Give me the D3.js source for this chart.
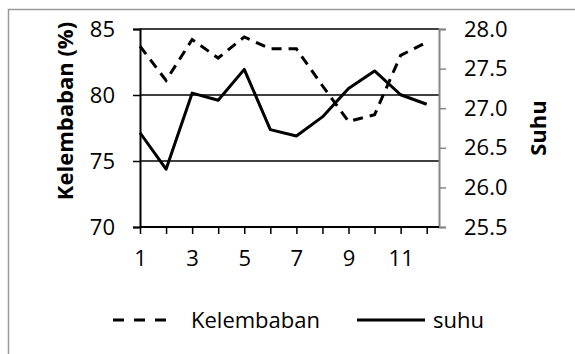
<!DOCTYPE html>
<html>
<head>
<meta charset="utf-8">
<script src="https://cdn.jsdelivr.net/npm/d3@7"></script>
<style>
  body { margin: 0; background: #fff; }
  svg text { font-family: "Open Sans", sans-serif; fill: #000; }
</style>
</head>
<body>
<div id="grafik"></div>
<script>
// data
var bulan = [1, 2, 3, 4, 5, 6, 7, 8, 9, 10, 11, 12]
var kelembaban = [83.7, 81.1, 84.2, 82.8, 84.4, 83.5, 83.5, 80.7, 78.0, 78.5, 83.0, 84.0]
var suhu = [26.69, 26.23, 27.19, 27.10, 27.49, 26.73, 26.65, 26.89, 27.25, 27.47, 27.17, 27.05]
var tickKiri = [70, 75, 80, 85]
var tickKanan = [25.5, 26.0, 26.5, 27.0, 27.5, 28.0]
var labelX = [1, 3, 5, 7, 9, 11]

var W = 575, H = 354
var plot = {left: 140, right: 439, top: 29, bottom: 227}

var svg = d3.select("#grafik").append("svg")
  .attr("width", W).attr("height", H)

// bingkai luar
svg.append("rect")
  .attr("x", 8.5).attr("y", 9.5)
  .attr("width", W).attr("height", H)
  .attr("fill", "none").attr("stroke", "#9a9a9a").attr("stroke-width", 1.5)

var x = d3.scaleLinear().domain([1, 12]).range([plot.left, 426.7])
var yKiri = d3.scaleLinear().domain([70, 85]).range([plot.bottom, plot.top])
var yKanan = d3.scaleLinear().domain([25.5, 28]).range([plot.bottom, plot.top])

// garis grid
svg.selectAll("line.grid")
  .data(tickKiri.slice(1))
  .enter().append("line")
  .attr("class", "grid")
  .attr("x1", plot.left).attr("x2", plot.right)
  .attr("y1", d => yKiri(d)).attr("y2", d => yKiri(d))
  .attr("stroke", "#000").attr("stroke-width", 1.5)

// sumbu kiri
var sumbuKiri = svg.append("g")
  .attr("transform", "translate(" + plot.left + ",0)")
  .call(d3.axisLeft(yKiri).tickValues(tickKiri).tickSize(7).tickPadding(18))
sumbuKiri.select(".domain").attr("stroke", "#000").attr("stroke-width", 2)
sumbuKiri.selectAll(".tick line").attr("stroke", "#000").attr("stroke-width", 1.5)
sumbuKiri.selectAll(".tick text")
  .style("font-size", "22px").style("font-family", "Open Sans")

// sumbu kanan
var sumbuKanan = svg.append("g")
  .attr("transform", "translate(" + plot.right + ",0)")
  .call(d3.axisRight(yKanan).tickValues(tickKanan).tickFormat(d3.format(".1f")).tickSize(7).tickPadding(18))
sumbuKanan.select(".domain").attr("stroke", "#868686").attr("stroke-width", 2)
sumbuKanan.selectAll(".tick line").attr("stroke", "#868686").attr("stroke-width", 1.5)
sumbuKanan.selectAll(".tick text")
  .style("font-size", "22px").style("font-family", "Open Sans")

// sumbu x
var sumbuX = svg.append("g")
  .attr("transform", "translate(0," + plot.bottom + ")")
  .call(d3.axisBottom(x).tickValues(bulan).tickSize(7).tickPadding(16)
    .tickFormat(d => labelX.indexOf(d) >= 0 ? d : ""))
sumbuX.select(".domain").remove()
sumbuX.append("line")
  .attr("x1", plot.left).attr("x2", plot.right)
  .attr("stroke", "#000").attr("stroke-width", 2)
sumbuX.selectAll(".tick line").attr("stroke", "#000").attr("stroke-width", 1.5)
sumbuX.selectAll(".tick text")
  .style("font-size", "22px").style("font-family", "Open Sans")

// judul sumbu
svg.append("text")
  .attr("transform", "translate(73," + ((plot.top + plot.bottom) / 2 - 17) + ") rotate(-90)")
  .attr("text-anchor", "middle")
  .style("font-size", "22px").style("font-weight", "bold")
  .text("Kelembaban (%)")
svg.append("text")
  .attr("transform", "translate(546," + (plot.top + plot.bottom) / 2 + ") rotate(-90)")
  .attr("text-anchor", "middle")
  .style("font-size", "22px").style("font-weight", "bold")
  .text("Suhu")

// garis data
var garisKel = d3.line().x((d, i) => x(bulan[i])).y(d => yKiri(d))
var garisSuhu = d3.line().x((d, i) => x(bulan[i])).y(d => yKanan(d))

svg.append("path")
  .datum(kelembaban)
  .attr("d", garisKel)
  .attr("fill", "none").attr("stroke", "#000").attr("stroke-width", 3)
  .attr("stroke-dasharray", "10,7")
svg.append("path")
  .datum(suhu)
  .attr("d", garisSuhu)
  .attr("fill", "none").attr("stroke", "#000").attr("stroke-width", 3)
  .attr("stroke-linejoin", "round")

// legenda
var leg = svg.append("g")
svg.append("line")
  .attr("x1", 113).attr("x2", 171).attr("y1", 320).attr("y2", 320)
  .attr("stroke", "#000").attr("stroke-width", 3).attr("stroke-dasharray", "11,10")
svg.append("text").attr("x", 191).attr("y", 328)
  .style("font-size", "22px").text("Kelembaban")
svg.append("line")
  .attr("x1", 357).attr("x2", 425).attr("y1", 320).attr("y2", 320)
  .attr("stroke", "#000").attr("stroke-width", 3)
svg.append("text").attr("x", 433).attr("y", 328)
  .style("font-size", "22px").text("suhu")
</script>
</body>
</html>
